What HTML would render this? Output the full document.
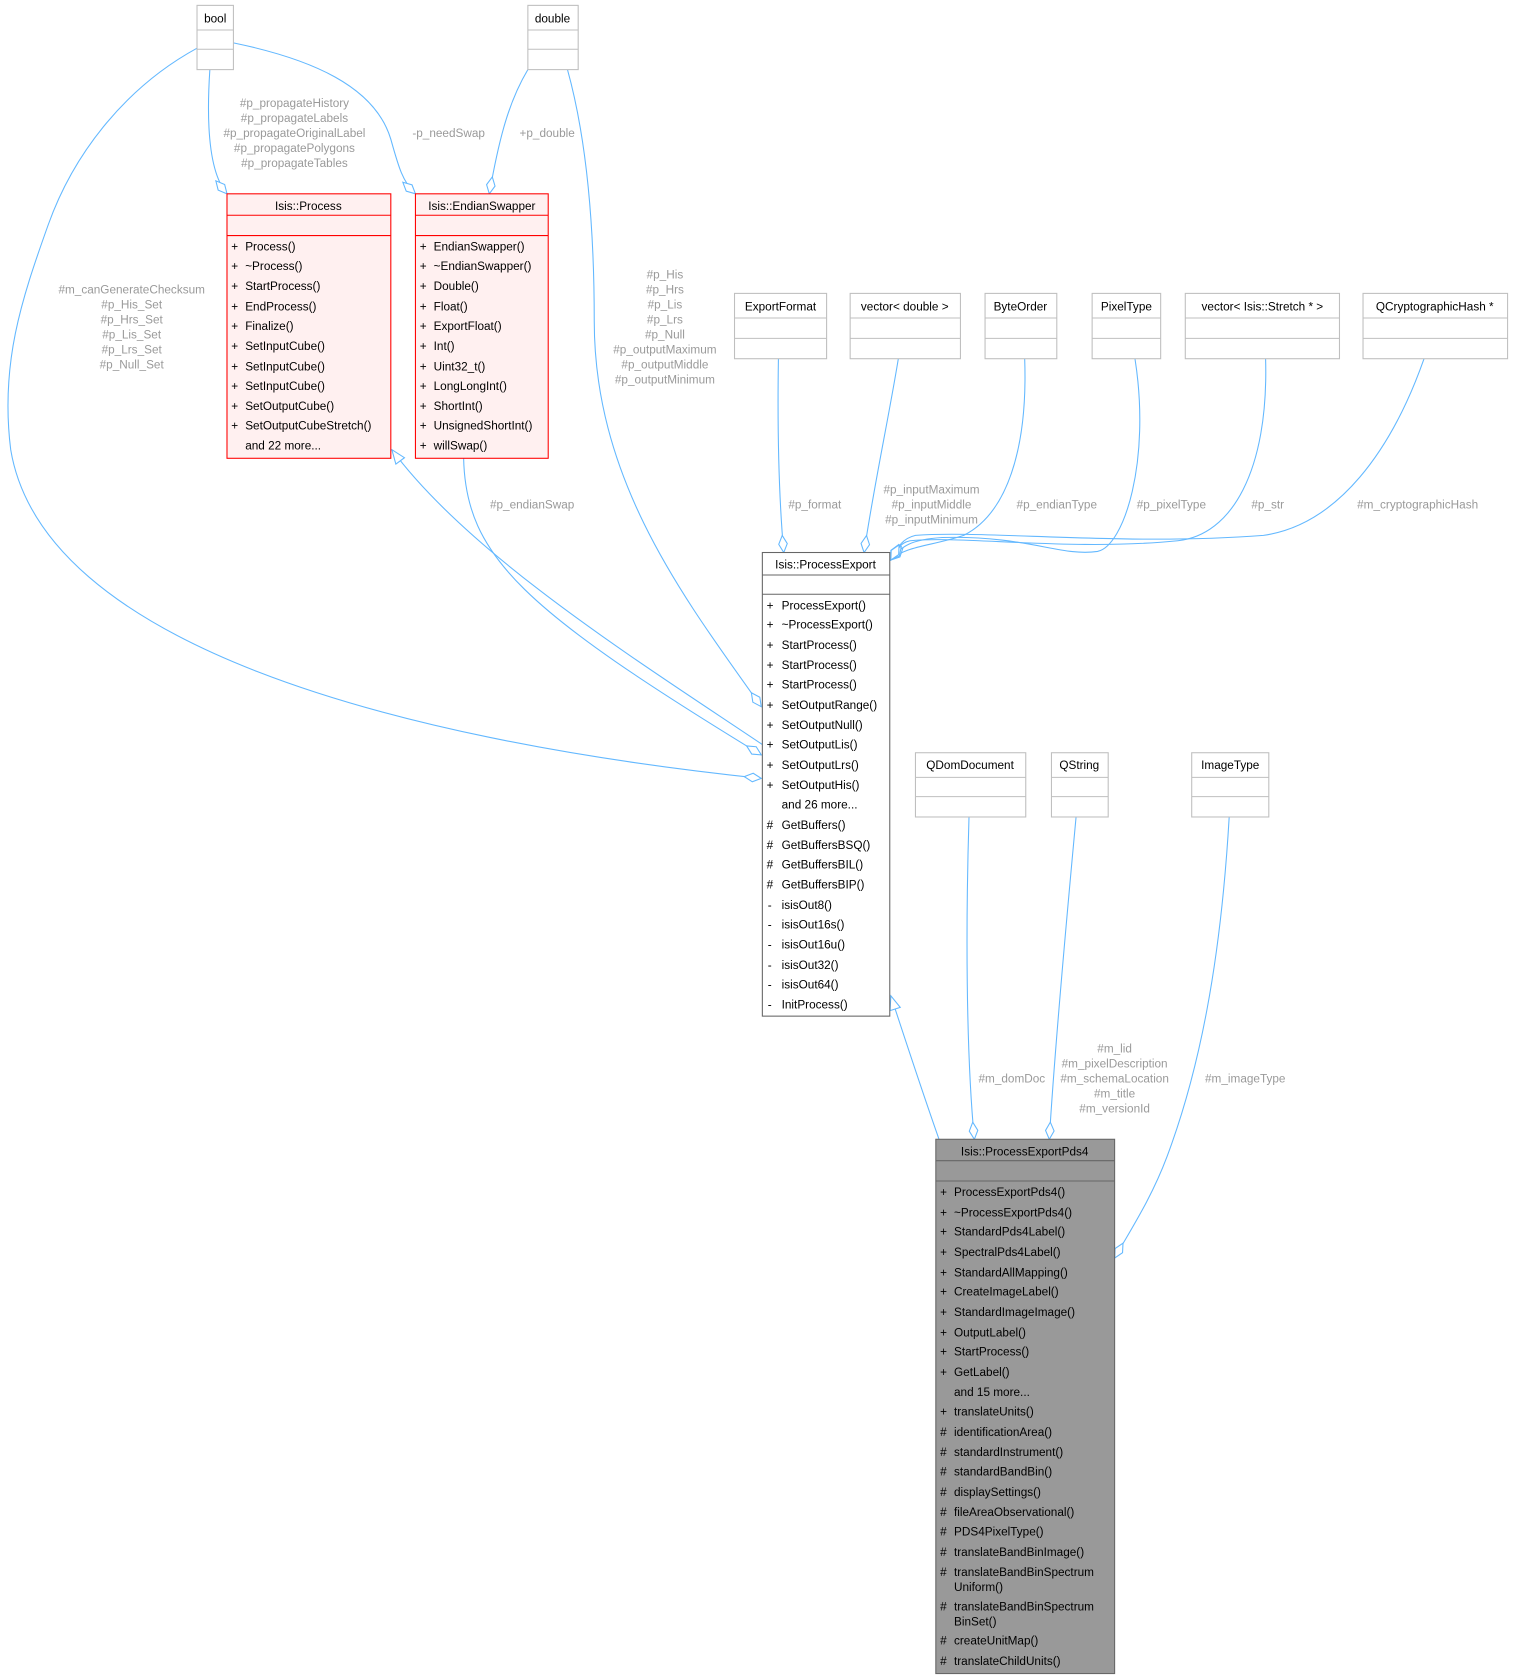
<!DOCTYPE html>
<html><head><meta charset="utf-8"><style>
html,body{margin:0;padding:0;background:#fff;}
svg{display:block;}
text{font-family:"Liberation Sans",Arial,sans-serif;font-size:11px;}
.m{fill:#000;}
.l{fill:#9a9a9a;}
.e{fill:none;stroke:#63b8ff;stroke-width:1;}
</style></head><body>
<svg width="1514" height="1680" viewBox="0 0 1414 1569" xmlns="http://www.w3.org/2000/svg">
<defs>
<marker id="d" viewBox="-1 -1 18 10" refX="16" refY="4" markerWidth="18" markerHeight="10" orient="auto" markerUnits="userSpaceOnUse"><path d="M0,4 L8,0 L16,4 L8,8 Z" fill="#fff" stroke="#63b8ff"/></marker>
<marker id="t" viewBox="-1 -1 15 12" refX="13" refY="5" markerWidth="15" markerHeight="12" orient="auto" markerUnits="userSpaceOnUse"><path d="M0,0 L13,5 L0,10 Z" fill="#fff" stroke="#63b8ff"/></marker>
</defs>

<!-- edges -->
<path class="e" marker-end="url(#d)" d="M184,45 C120,80 70,140 45,210 C20,280 0,340 10,420 C40,600 360,690 711,727"/>
<path class="e" marker-end="url(#d)" d="M196,65 C193,110 194,160 212,181"/>
<path class="e" marker-end="url(#d)" d="M218,40 C290,55 350,80 365,130 C372,155 376,170 388,181"/>
<path class="e" marker-end="url(#d)" d="M493,65 C475,95 466,130 457,181"/>
<path class="e" marker-end="url(#d)" d="M530,65 C548,130 555,210 555,300 C555,450 640,560 711,660"/>
<path class="e" marker-end="url(#t)" d="M713,696 C600,620 440,520 366,420"/>
<path class="e" marker-end="url(#d)" d="M433,428 C435,520 490,570 711,705"/>
<path class="e" marker-end="url(#d)" d="M727,335 C726,400 727,460 732,516"/>
<path class="e" marker-end="url(#d)" d="M839,335 C830,390 815,460 807,516"/>
<path class="e" marker-end="url(#d)" d="M957,335 C960,420 940,480 900,500 C870,510 845,510 832,523"/>
<path class="e" marker-end="url(#d)" d="M1060,335 C1075,430 1050,510 1025,515 C990,520 960,500 880,502 C850,504 842,510 832,523"/>
<path class="e" marker-end="url(#d)" d="M1182,335 C1185,440 1150,500 1100,505 C1000,515 900,500 850,505 C840,507 836,515 832,523"/>
<path class="e" marker-end="url(#d)" d="M1330,335 C1300,420 1250,490 1180,500 C1050,510 920,495 855,500 C842,503 838,512 832,523"/>
<path class="e" marker-end="url(#t)" d="M877,1064 C865,1030 850,985 832,930"/>
<path class="e" marker-end="url(#d)" d="M905,763 C902,860 902,980 910,1064"/>
<path class="e" marker-end="url(#d)" d="M1005,763 C995,870 985,980 980,1064"/>
<path class="e" marker-end="url(#d)" d="M1148,763 C1140,900 1120,1000 1090,1080 C1075,1120 1055,1150 1041,1175"/>

<!-- edge labels -->
<g class="l" text-anchor="middle">
<text x="123" y="274">#m_canGenerateChecksum</text>
<text x="123" y="288">#p_His_Set</text>
<text x="123" y="302">#p_Hrs_Set</text>
<text x="123" y="316">#p_Lis_Set</text>
<text x="123" y="330">#p_Lrs_Set</text>
<text x="123" y="344">#p_Null_Set</text>
<text x="275" y="100">#p_propagateHistory</text>
<text x="275" y="114">#p_propagateLabels</text>
<text x="275" y="128">#p_propagateOriginalLabel</text>
<text x="275" y="142">#p_propagatePolygons</text>
<text x="275" y="156">#p_propagateTables</text>
<text x="419" y="128">-p_needSwap</text>
<text x="511" y="128">+p_double</text>
<text x="621" y="260">#p_His</text>
<text x="621" y="274">#p_Hrs</text>
<text x="621" y="288">#p_Lis</text>
<text x="621" y="302">#p_Lrs</text>
<text x="621" y="316">#p_Null</text>
<text x="621" y="330">#p_outputMaximum</text>
<text x="621" y="344">#p_outputMiddle</text>
<text x="621" y="358">#p_outputMinimum</text>
<text x="497" y="475">#p_endianSwap</text>
<text x="761" y="475">#p_format</text>
<text x="870" y="461">#p_inputMaximum</text>
<text x="870" y="475">#p_inputMiddle</text>
<text x="870" y="489">#p_inputMinimum</text>
<text x="987" y="475">#p_endianType</text>
<text x="1094" y="475">#p_pixelType</text>
<text x="1184" y="475">#p_str</text>
<text x="1324" y="475">#m_cryptographicHash</text>
<text x="945" y="1011">#m_domDoc</text>
<text x="1041" y="983">#m_lid</text>
<text x="1041" y="997">#m_pixelDescription</text>
<text x="1041" y="1011">#m_schemaLocation</text>
<text x="1041" y="1025">#m_title</text>
<text x="1041" y="1039">#m_versionId</text>
<text x="1163" y="1011">#m_imageType</text>
</g>

<!-- simple boxes -->
<g fill="#fff" stroke="#bfbfbf">
<rect x="184" y="5" width="34" height="60"/><line x1="184" y1="28" x2="218" y2="28"/><line x1="184" y1="46" x2="218" y2="46"/>
<rect x="493" y="5" width="47" height="60"/><line x1="493" y1="28" x2="540" y2="28"/><line x1="493" y1="46" x2="540" y2="46"/>
<rect x="686" y="274" width="86" height="61"/><line x1="686" y1="297" x2="772" y2="297"/><line x1="686" y1="316" x2="772" y2="316"/>
<rect x="794" y="274" width="103" height="61"/><line x1="794" y1="297" x2="897" y2="297"/><line x1="794" y1="316" x2="897" y2="316"/>
<rect x="920" y="274" width="67" height="61"/><line x1="920" y1="297" x2="987" y2="297"/><line x1="920" y1="316" x2="987" y2="316"/>
<rect x="1020" y="274" width="64" height="61"/><line x1="1020" y1="297" x2="1084" y2="297"/><line x1="1020" y1="316" x2="1084" y2="316"/>
<rect x="1107" y="274" width="144" height="61"/><line x1="1107" y1="297" x2="1251" y2="297"/><line x1="1107" y1="316" x2="1251" y2="316"/>
<rect x="1273" y="274" width="135" height="61"/><line x1="1273" y1="297" x2="1408" y2="297"/><line x1="1273" y1="316" x2="1408" y2="316"/>
<rect x="855" y="703" width="103" height="60"/><line x1="855" y1="726" x2="958" y2="726"/><line x1="855" y1="744" x2="958" y2="744"/>
<rect x="982" y="703" width="53" height="60"/><line x1="982" y1="726" x2="1035" y2="726"/><line x1="982" y1="744" x2="1035" y2="744"/>
<rect x="1113" y="703" width="72" height="60"/><line x1="1113" y1="726" x2="1185" y2="726"/><line x1="1113" y1="744" x2="1185" y2="744"/>
</g>
<g class="m" text-anchor="middle">
<text x="201" y="21">bool</text>
<text x="516" y="21">double</text>
<text x="729" y="290">ExportFormat</text>
<text x="845" y="290">vector&lt; double &gt;</text>
<text x="953" y="290">ByteOrder</text>
<text x="1052" y="290">PixelType</text>
<text x="1179" y="290">vector&lt; Isis::Stretch * &gt;</text>
<text x="1340" y="290">QCryptographicHash *</text>
<text x="906" y="718">QDomDocument</text>
<text x="1008" y="718">QString</text>
<text x="1149" y="718">ImageType</text>
</g>

<!-- Isis::Process -->
<rect x="212" y="181" width="153" height="247" fill="#fff0f0" stroke="#ff0000"/>
<line x1="212" y1="201" x2="365" y2="201" stroke="#ff0000"/>
<line x1="212" y1="220" x2="365" y2="220" stroke="#ff0000"/>
<text class="m" x="288" y="196" text-anchor="middle">Isis::Process</text>
<g class="m">
<text x="216" y="234">+</text><text x="229" y="234">Process()</text>
<text x="216" y="252">+</text><text x="229" y="252">~Process()</text>
<text x="216" y="271">+</text><text x="229" y="271">StartProcess()</text>
<text x="216" y="290">+</text><text x="229" y="290">EndProcess()</text>
<text x="216" y="308">+</text><text x="229" y="308">Finalize()</text>
<text x="216" y="327">+</text><text x="229" y="327">SetInputCube()</text>
<text x="216" y="346">+</text><text x="229" y="346">SetInputCube()</text>
<text x="216" y="364">+</text><text x="229" y="364">SetInputCube()</text>
<text x="216" y="383">+</text><text x="229" y="383">SetOutputCube()</text>
<text x="216" y="401">+</text><text x="229" y="401">SetOutputCubeStretch()</text>
<text x="229" y="420">and 22 more...</text>
</g>

<!-- Isis::EndianSwapper -->
<rect x="388" y="181" width="124" height="247" fill="#fff0f0" stroke="#ff0000"/>
<line x1="388" y1="201" x2="512" y2="201" stroke="#ff0000"/>
<line x1="388" y1="220" x2="512" y2="220" stroke="#ff0000"/>
<text class="m" x="450" y="196" text-anchor="middle">Isis::EndianSwapper</text>
<g class="m">
<text x="392" y="234">+</text><text x="405" y="234">EndianSwapper()</text>
<text x="392" y="252">+</text><text x="405" y="252">~EndianSwapper()</text>
<text x="392" y="271">+</text><text x="405" y="271">Double()</text>
<text x="392" y="290">+</text><text x="405" y="290">Float()</text>
<text x="392" y="308">+</text><text x="405" y="308">ExportFloat()</text>
<text x="392" y="327">+</text><text x="405" y="327">Int()</text>
<text x="392" y="346">+</text><text x="405" y="346">Uint32_t()</text>
<text x="392" y="364">+</text><text x="405" y="364">LongLongInt()</text>
<text x="392" y="383">+</text><text x="405" y="383">ShortInt()</text>
<text x="392" y="401">+</text><text x="405" y="401">UnsignedShortInt()</text>
<text x="392" y="420">+</text><text x="405" y="420">willSwap()</text>
</g>

<!-- Isis::ProcessExport -->
<rect x="712" y="516" width="119" height="433" fill="#fff" stroke="#666"/>
<line x1="712" y1="537" x2="831" y2="537" stroke="#666"/>
<line x1="712" y1="555" x2="831" y2="555" stroke="#666"/>
<text class="m" x="771" y="531" text-anchor="middle">Isis::ProcessExport</text>
<g class="m">
<text x="716" y="569">+</text><text x="730" y="569">ProcessExport()</text>
<text x="716" y="587">+</text><text x="730" y="587">~ProcessExport()</text>
<text x="716" y="606">+</text><text x="730" y="606">StartProcess()</text>
<text x="716" y="625">+</text><text x="730" y="625">StartProcess()</text>
<text x="716" y="643">+</text><text x="730" y="643">StartProcess()</text>
<text x="716" y="662">+</text><text x="730" y="662">SetOutputRange()</text>
<text x="716" y="681">+</text><text x="730" y="681">SetOutputNull()</text>
<text x="716" y="699">+</text><text x="730" y="699">SetOutputLis()</text>
<text x="716" y="718">+</text><text x="730" y="718">SetOutputLrs()</text>
<text x="716" y="737">+</text><text x="730" y="737">SetOutputHis()</text>
<text x="730" y="755">and 26 more...</text>
<text x="716" y="774">#</text><text x="730" y="774">GetBuffers()</text>
<text x="716" y="793">#</text><text x="730" y="793">GetBuffersBSQ()</text>
<text x="716" y="811">#</text><text x="730" y="811">GetBuffersBIL()</text>
<text x="716" y="830">#</text><text x="730" y="830">GetBuffersBIP()</text>
<text x="717" y="849">-</text><text x="730" y="849">isisOut8()</text>
<text x="717" y="867">-</text><text x="730" y="867">isisOut16s()</text>
<text x="717" y="886">-</text><text x="730" y="886">isisOut16u()</text>
<text x="717" y="905">-</text><text x="730" y="905">isisOut32()</text>
<text x="717" y="923">-</text><text x="730" y="923">isisOut64()</text>
<text x="717" y="942">-</text><text x="730" y="942">InitProcess()</text>
</g>

<!-- Isis::ProcessExportPds4 -->
<rect x="874" y="1064" width="167" height="499" fill="#999" stroke="#666"/>
<line x1="874" y1="1084" x2="1041" y2="1084" stroke="#666"/>
<line x1="874" y1="1103" x2="1041" y2="1103" stroke="#666"/>
<text class="m" x="957" y="1079" text-anchor="middle">Isis::ProcessExportPds4</text>
<g class="m">
<text x="878" y="1117">+</text><text x="891" y="1117">ProcessExportPds4()</text>
<text x="878" y="1136">+</text><text x="891" y="1136">~ProcessExportPds4()</text>
<text x="878" y="1154">+</text><text x="891" y="1154">StandardPds4Label()</text>
<text x="878" y="1173">+</text><text x="891" y="1173">SpectralPds4Label()</text>
<text x="878" y="1192">+</text><text x="891" y="1192">StandardAllMapping()</text>
<text x="878" y="1210">+</text><text x="891" y="1210">CreateImageLabel()</text>
<text x="878" y="1229">+</text><text x="891" y="1229">StandardImageImage()</text>
<text x="878" y="1248">+</text><text x="891" y="1248">OutputLabel()</text>
<text x="878" y="1266">+</text><text x="891" y="1266">StartProcess()</text>
<text x="878" y="1285">+</text><text x="891" y="1285">GetLabel()</text>
<text x="891" y="1304">and 15 more...</text>
<text x="878" y="1322">+</text><text x="891" y="1322">translateUnits()</text>
<text x="878" y="1341">#</text><text x="891" y="1341">identificationArea()</text>
<text x="878" y="1360">#</text><text x="891" y="1360">standardInstrument()</text>
<text x="878" y="1378">#</text><text x="891" y="1378">standardBandBin()</text>
<text x="878" y="1397">#</text><text x="891" y="1397">displaySettings()</text>
<text x="878" y="1416">#</text><text x="891" y="1416">fileAreaObservational()</text>
<text x="878" y="1434">#</text><text x="891" y="1434">PDS4PixelType()</text>
<text x="878" y="1453">#</text><text x="891" y="1453">translateBandBinImage()</text>
<text x="878" y="1472">#</text><text x="891" y="1472">translateBandBinSpectrum</text>
<text x="891" y="1486">Uniform()</text>
<text x="878" y="1504">#</text><text x="891" y="1504">translateBandBinSpectrum</text>
<text x="891" y="1518">BinSet()</text>
<text x="878" y="1536">#</text><text x="891" y="1536">createUnitMap()</text>
<text x="878" y="1555">#</text><text x="891" y="1555">translateChildUnits()</text>
</g>
</svg>
</body></html>
